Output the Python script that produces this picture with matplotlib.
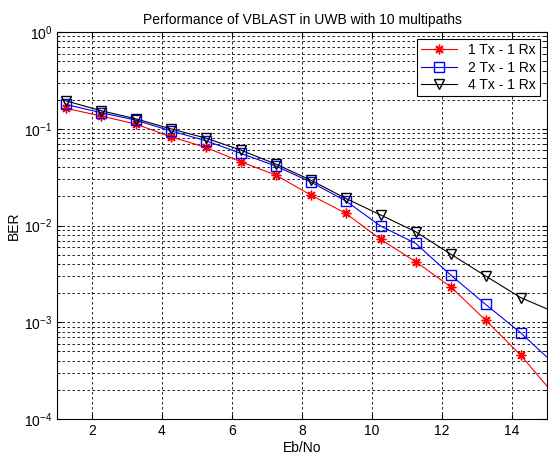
import matplotlib
matplotlib.use("Agg")
from matplotlib import pyplot as plt
import numpy as np

plt.rcParams["font.family"] = ["Liberation Sans", "DejaVu Sans"]
plt.rcParams["mathtext.fontset"] = "custom"
plt.rcParams["mathtext.rm"] = "Liberation Sans"
plt.rcParams["mathtext.it"] = "Liberation Sans"

# Eb/No points (last one lies just outside the axes)
ebno = [1.25, 2.25, 3.25, 4.25, 5.25, 6.25, 7.25, 8.25, 9.25, 10.25, 11.25, 12.25, 13.25, 14.25, 15.25]

ber_1tx = [0.163, 0.136, 0.112, 0.0828, 0.0643, 0.0457, 0.0333, 0.0207, 0.0134,
           0.0072, 0.00423, 0.00233, 0.00105, 0.000458, 0.000172]
ber_2tx = [0.179, 0.147, 0.123, 0.0953, 0.0754, 0.0558, 0.0413, 0.0282, 0.0180,
           0.00988, 0.00655, 0.00308, 0.00153, 0.00078, 0.00036]
ber_4tx = [0.195, 0.154, 0.127, 0.100, 0.0802, 0.0603, 0.0432, 0.0295, 0.0191,
           0.01285, 0.00863, 0.00507, 0.00301, 0.00180, 0.00126]

labels = ["1 Tx - 1 Rx", "2 Tx - 1 Rx", "4 Tx - 1 Rx"]

fig = plt.figure(figsize=(5.48, 4.58), dpi=100)
ax = fig.add_axes([0.104, 0.085, 0.894, 0.845])

# asterisk marker like MATLAB's '*'
ax.semilogy(ebno, ber_1tx, color="red", marker=(8, 2, 0), markersize=7, markeredgewidth=1.0,
            linewidth=0.8, label=labels[0])
ax.semilogy(ebno, ber_2tx, color="blue", marker="s", markersize=6.5, markerfacecolor="none",
            linewidth=0.8, label=labels[1])
ax.semilogy(ebno, ber_4tx, color="black", marker="v", markersize=6.5, markerfacecolor="none",
            linewidth=0.8, label=labels[2])

ax.set_xlim(1, 15)
ax.set_ylim(1e-4, 1)
ax.set_xticks([2, 4, 6, 8, 10, 12, 14])

ax.grid(True, which="both", color="black", linestyle=(0, (3, 3)), linewidth=0.6)
ax.tick_params(which="both", direction="in", top=True, right=True, labelsize=10)
ax.tick_params(which="minor", length=2)

ax.set_title("Performance of VBLAST in UWB with 10 multipaths", fontsize=10)
ax.set_xlabel("Eb/No", fontsize=10, labelpad=2)
ax.set_ylabel("BER", fontsize=10, labelpad=2)

leg = ax.legend(loc="upper right", fontsize=10, fancybox=False, framealpha=1,
                edgecolor="black", borderaxespad=0.5, handlelength=2.6,
                labelspacing=0.25, borderpad=0.3, handletextpad=0.8)
leg.get_frame().set_linewidth(0.8)

plt.savefig("out.png", dpi=100)
